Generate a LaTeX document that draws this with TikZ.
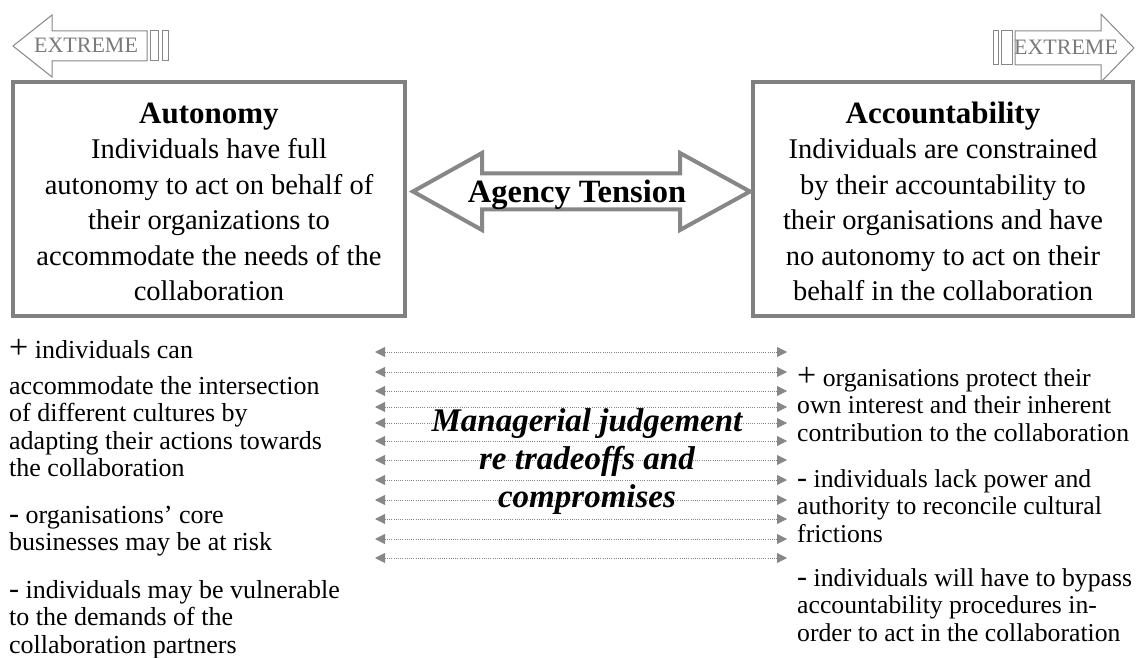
\documentclass[tikz,border=0pt]{standalone}
\usepackage{fontspec}
\setmainfont{Liberation Serif}
\usetikzlibrary{arrows.meta}
\definecolor{edgegray}{HTML}{878787}
\definecolor{boxgray}{HTML}{808080}
\definecolor{txtgray}{HTML}{7A7A7A}
\newcommand\myfs[2]{\fontsize{#1}{#2}\selectfont}
\begin{document}
\begin{tikzpicture}[x=1pt,y=-1pt,
  bigbox/.style={draw=boxgray,line width=4pt,fill=white,inner sep=0pt},
  boxtext/.style={align=center,inner sep=0pt,font=\myfs{28.5}{35.5}},
  extremearrow/.style={draw=edgegray,line width=1pt,fill=white},
  extremetext/.style={text=txtgray,inner sep=0pt,font=\myfs{22}{22}},
  tensionarrow/.style={draw=edgegray,line width=4pt,fill=white,line join=miter},
  dotarrow/.style={draw=edgegray,line width=0.8pt,dash pattern=on 0.9pt off 1.3pt,
    {Triangle[length=10pt,width=10pt,fill=edgegray]}-{Triangle[length=10pt,width=10pt,fill=edgegray]}},
  sidetext/.style={align=left,inner sep=0pt,anchor=base west,font=\myfs{26}{27.5}},
  judgetext/.style={align=center,inner sep=0pt,font=\myfs{33}{38}\bfseries\itshape}
]
\useasboundingbox (0,0) rectangle (1136,658);

% EXTREME arrows
\draw[extremearrow] (13,46) -- (52,15) -- (52,31) -- (147,31) -- (147,61) -- (52,61) -- (52,77) -- cycle;
\draw[extremearrow] (150,31) rectangle (158,61);
\draw[extremearrow] (162,31) rectangle (168,61);
\node[extremetext,anchor=base] (extL) at (86,53) {EXTREME};

\draw[extremearrow] (1134,48) -- (1101,14) -- (1101,31) -- (1015,31) -- (1015,65) -- (1101,65) -- (1101,82) -- cycle;
\draw[extremearrow] (1001,31) rectangle (1012,65);
\draw[extremearrow] (993,31) rectangle (998,65);
\node[extremetext,anchor=base] (extR) at (1066,55) {EXTREME};

% boxes
\node[bigbox,minimum width=392pt,minimum height=234pt] (auto) at (209,199) {};
\node[bigbox,minimum width=380pt,minimum height=234pt] (acc) at (943,199) {};
\node[boxtext,anchor=base] (autotxt) at (209,300.5)
  {{\bfseries\myfs{31}{35.5}Autonomy}\\Individuals have full\\autonomy to act on behalf of\\their organizations to\\accommodate the needs of the\\collaboration};
\node[boxtext,anchor=base] (acctxt) at (943,300.5)
  {{\bfseries\myfs{31}{35.5}Accountability}\\Individuals are constrained\\by their accountability to\\their organisations and have\\no autonomy to act on their\\behalf in the collaboration};

% agency tension arrow
\draw[tensionarrow] (413,191.5) -- (482,153) -- (482,173.5) -- (680,173.5) -- (680,153)
  -- (750,191.5) -- (680,230) -- (680,209.5) -- (482,209.5) -- (482,230) -- cycle;
\node[inner sep=0pt,anchor=base,font=\myfs{32.5}{36}\bfseries] (tension) at (577,203) {Agency Tension};

% dotted double arrows
\foreach \yy [count=\i] in {352,372,391,407,423,441,460,480,500,519,539,558} {
  \coordinate (dl\i) at (375,\yy);
  \coordinate (dr\i) at (787,\yy);
  \draw[dotarrow] (dl\i) -- (dr\i);
}
\node[judgetext,anchor=base] (judge) at (587,507) {Managerial judgement\\re tradeoffs and\\compromises};

% left side text
\node[sidetext] (lp1) at (9,476.5) {{\myfs{34}{27.5}+} individuals can\\[8.5pt]accommodate the intersection\\of different cultures by\\adapting their actions towards\\the collaboration};
\node[sidetext] (lp2) at (9,550.5) {{\myfs{30}{27.5}-} organisations’ core\\businesses may be at risk};
\node[sidetext] (lp3) at (9,653) {{\myfs{30}{27.5}-} individuals may be vulnerable\\to the demands of the\\collaboration partners};

% right side text
\node[sidetext,font=\myfs{25.7}{27.5}] (rp1) at (797,441) {{\myfs{34}{27.5}+} organisations protect their\\own interest and their inherent\\contribution to the collaboration};
\node[sidetext,font=\myfs{25.7}{27.5}] (rp2) at (797,542) {{\myfs{30}{27.5}-} individuals lack power and\\authority to reconcile cultural\\frictions};
\node[sidetext,font=\myfs{25.7}{27.5}] (rp3) at (797,641) {{\myfs{30}{27.5}-} individuals will have to bypass\\accountability procedures in-\\order to act in the collaboration};
\end{tikzpicture}
\end{document}
